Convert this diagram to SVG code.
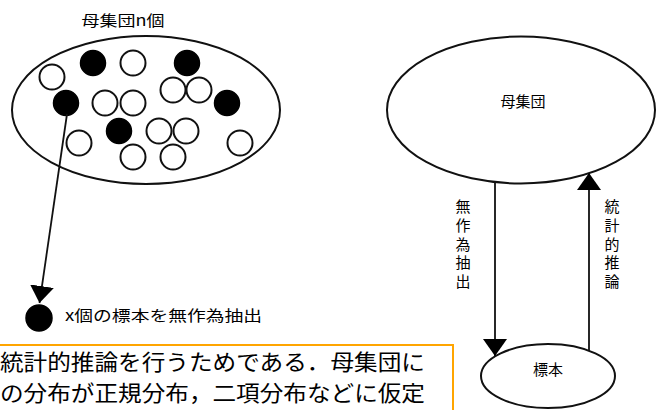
<svg xmlns="http://www.w3.org/2000/svg" width="656" height="410" viewBox="0 0 656 410">
<defs>
<style>
text{font-family:"Noto Sans CJK JP","Noto Sans",sans-serif;fill:#000;}
.lbl{font-size:15px;}
.vt{font-size:15px;writing-mode:vertical-rl;letter-spacing:3.75px;}
.ell{fill:#fff;stroke:#111;stroke-width:2;}
.op{fill:#fff;stroke:#111;stroke-width:2;}
.fl{fill:#000;stroke:#000;stroke-width:1.5;}
.ln{stroke:#111;stroke-width:1.8;fill:none;}
</style>
<marker id="ah" viewBox="0 0 10 10" refX="10" refY="5" markerWidth="17" markerHeight="24" markerUnits="userSpaceOnUse" orient="auto" preserveAspectRatio="none">
<path d="M0,0 L10,5 L0,10 Z" fill="#000"/>
</marker>
</defs>
<rect width="656" height="410" fill="#fff"/>

<g id="population-left">
<text class="lbl" x="123" y="26" text-anchor="middle" textLength="83" lengthAdjust="spacingAndGlyphs">母集団n個</text>
<ellipse class="ell" cx="146" cy="110" rx="134" ry="74"/>
<circle class="op" cx="52" cy="77" r="12.5"/>
<circle class="fl" cx="93" cy="63" r="12.5"/>
<circle class="op" cx="133" cy="63" r="12.5"/>
<circle class="fl" cx="187" cy="63" r="12.5"/>
<circle class="op" cx="173" cy="90" r="12.5"/>
<circle class="op" cx="199" cy="90" r="12.5"/>
<circle class="fl" cx="66" cy="103" r="12.5"/>
<circle class="op" cx="105" cy="103" r="12.5"/>
<circle class="op" cx="133" cy="103" r="12.5"/>
<circle class="fl" cx="227" cy="103" r="12.5"/>
<circle class="fl" cx="119" cy="131" r="12.5"/>
<circle class="op" cx="159" cy="131" r="12.5"/>
<circle class="op" cx="186" cy="131" r="12.5"/>
<circle class="op" cx="79" cy="143" r="12.5"/>
<circle class="op" cx="133" cy="157" r="12.5"/>
<circle class="op" cx="173" cy="157" r="12.5"/>
<circle class="op" cx="240" cy="143" r="12.5"/>
</g>

<g id="sample-left">
<circle class="fl" cx="39" cy="318" r="13"/>
<text class="lbl" x="65" y="321" textLength="197" lengthAdjust="spacingAndGlyphs">x個の標本を無作為抽出</text>
</g>

<g id="population-right">
<ellipse class="ell" cx="521" cy="110" rx="134" ry="73.5"/>
<text class="lbl" x="523" y="107" text-anchor="middle">母集団</text>
</g>

<g id="sample-right">
<ellipse class="ell" cx="548" cy="376" rx="67" ry="32"/>
<text class="lbl" x="548" y="375" text-anchor="middle">標本</text>
</g>

<g id="connectors">
<line class="ln" x1="67" y1="114" x2="39.5" y2="303" marker-end="url(#ah)"/>
<line class="ln" x1="495" y1="183" x2="495" y2="356" marker-end="url(#ah)"/>
<line class="ln" x1="589" y1="351" x2="589" y2="173" marker-end="url(#ah)"/>
</g>

<g id="edge-labels">
<text class="vt" x="463" y="199">無作為抽出</text>
<text class="vt" x="612" y="199">統計的推論</text>
</g>

<g id="note">
<rect x="-3" y="345" width="456" height="70" fill="#fff" stroke="#FFA500" stroke-width="2"/>
<text x="0" y="370" font-size="22" textLength="425" lengthAdjust="spacingAndGlyphs">統計的推論を行うためである．母集団に</text>
<text x="0" y="401" font-size="22" textLength="425" lengthAdjust="spacingAndGlyphs">の分布が正規分布，二項分布などに仮定</text>
</g>
</svg>
